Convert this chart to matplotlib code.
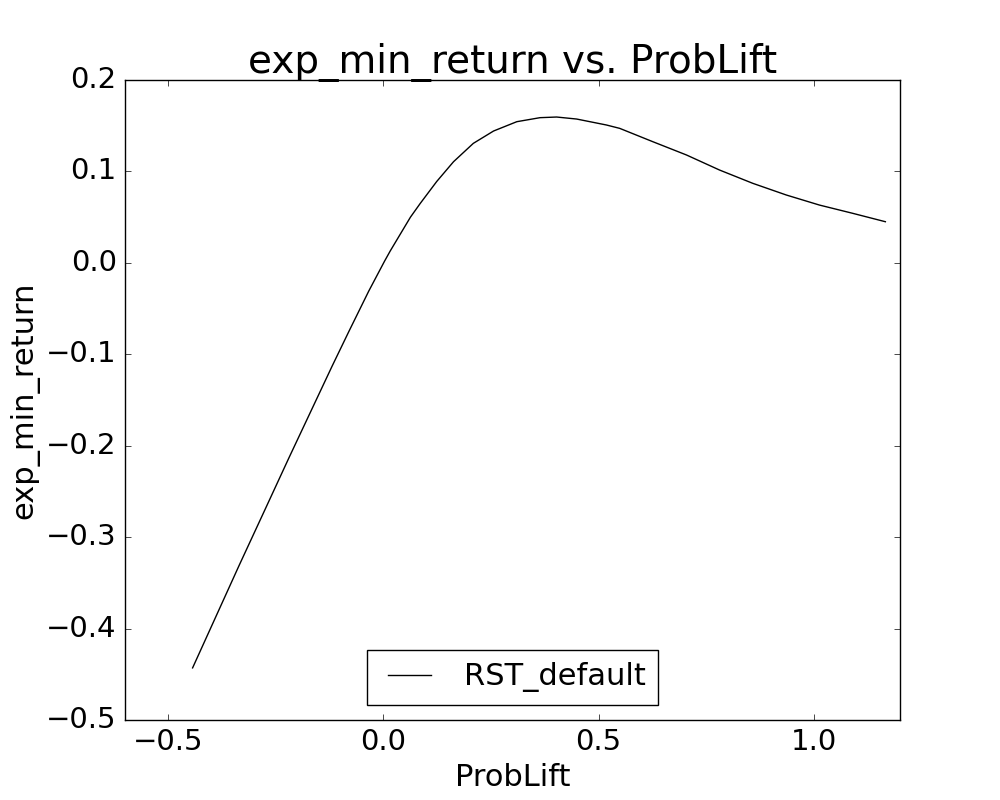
import matplotlib
matplotlib.use("Agg")
from matplotlib import pyplot as plt

# values
prob_lift = [-0.443, -0.389, -0.335, -0.273, -0.219, -0.158, -0.119, -0.080, -0.034,
             0.003, 0.016, 0.063, 0.0857, 0.124, 0.163, 0.209, 0.256, 0.310,
             0.364, 0.4025, 0.449, 0.518, 0.549, 0.626, 0.704, 0.781, 0.858,
             0.936, 1.013, 1.090, 1.166]
exp_min_return = [-0.443, -0.387, -0.331, -0.268, -0.213, -0.152, -0.113, -0.075, -0.031,
                  0.002, 0.013, 0.050, 0.065, 0.089, 0.1106, 0.1307, 0.1442, 0.1544,
                  0.1588, 0.1595, 0.1573, 0.1508, 0.1471, 0.1325, 0.118, 0.1015, 0.087,
                  0.0742, 0.0632, 0.0542, 0.045]
series_name = "RST_default"

plt.style.use('classic')
fig = plt.figure(figsize=(10, 8), dpi=100, facecolor='white')
ax = fig.add_subplot(111)

ax.plot(prob_lift, exp_min_return, color='k', linewidth=1.0, label=series_name)

ax.set_xlim(-0.6, 1.2)
ax.set_ylim(-0.5, 0.2)
ax.set_xticks([-0.5, 0.0, 0.5, 1.0])
ax.tick_params(labelsize=21, pad=6)

ax.set_title("exp_min_return vs. ProbLift", fontsize=28)
ax.set_xlabel("ProbLift", fontsize=22)
ax.set_ylabel("exp_min_return", fontsize=22)
ax.legend(loc='lower center', fontsize=22)

fig.savefig("out.png", dpi=100, facecolor='white')
